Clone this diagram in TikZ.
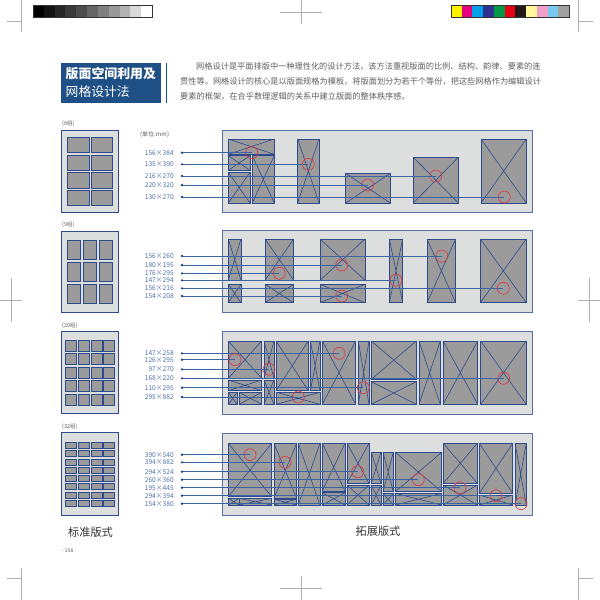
\documentclass[tikz,border=0pt]{standalone}
\usepackage{fontspec}
\setmainfont{Noto Sans CJK SC}
\newfontfamily\cjk{Noto Sans CJK SC}
\definecolor{titleblue}{RGB}{31,80,133}
\definecolor{panelgray}{RGB}{221,222,222}
\definecolor{boxgray}{RGB}{155,155,155}
\definecolor{boxblue}{RGB}{45,75,140}
\definecolor{lineblue}{RGB}{60,100,160}
\definecolor{labblue}{RGB}{80,115,170}
\definecolor{dotblue}{RGB}{30,70,135}
\definecolor{circred}{RGB}{230,50,60}
\definecolor{textgray}{RGB}{95,95,95}
\definecolor{markgray}{RGB}{175,175,175}
\tikzset{
  xb/.style={fill=boxgray, draw=boxblue, line width=0.7pt},
  xl/.style={draw=boxblue, line width=0.6pt},
  rc/.style={circle, draw=circred, line width=0.6pt, minimum size=12pt, inner sep=0pt},
  lab/.style={anchor=east, inner sep=0pt, text=labblue, font=\cjk\fontsize{6.7}{7}\selectfont},
  cn/.style={draw=lineblue, line width=0.7pt},
  panelbox/.style={fill=panelgray, draw=boxblue!80, line width=0.9pt},
  framebox/.style={fill=panelgray, draw=boxblue, line width=0.9pt},
  cellbox/.style={fill=boxgray, draw=boxblue, line width=0.7pt},
  cropmk/.style={draw=markgray, line width=0.5pt},
  smalltxt/.style={anchor=west, inner sep=0pt, text=textgray, font=\cjk\fontsize{5.5}{6}\selectfont},
  bodytxt/.style={anchor=west, inner sep=0pt, text=textgray, font=\cjk\fontsize{8.2}{9}\selectfont},
  bigtxt/.style={inner sep=0pt, text=black!80, font=\cjk\fontsize{11.2}{12}\selectfont}
}
\newcommand\XB[4]{\path[xb] (#1,#2) rectangle (#3,#4); \draw[xl] (#1,#2) -- (#3,#4) (#1,#4) -- (#3,#2);}
\newcommand\CONN[4]{%
  \node[lab] (l#1) at (174,#3) {#2};
  \coordinate (d#1) at (182,#3);
  \node[rc] (c#1) at (#4,#3) {};
  \draw[cn] (d#1) -- (c#1.center);
  \fill[dotblue] (d#1) circle (1.3pt);
}
\begin{document}
\begin{tikzpicture}[x=1pt,y=-1pt]
\useasboundingbox[fill=white] (0,0) rectangle (600,600);
% crop marks
\draw[cropmk] (21.7,0) -- (21.7,31.7) (6.7,21.7) -- (21.7,21.7);
\draw[cropmk] (578.3,0) -- (578.3,31.7) (578.3,21.7) -- (593.3,21.7);
\draw[cropmk] (21.7,600) -- (21.7,568.3) (6.7,578.3) -- (21.7,578.3);
\draw[cropmk] (578.3,600) -- (578.3,568.3) (578.3,578.3) -- (593.3,578.3);
\draw[cropmk] (301,0) -- (301,24) (280,12) -- (322,12);
\draw[cropmk] (301,600) -- (301,576) (280,588) -- (322,588);
\draw[cropmk] (11,278) -- (11,322) (0,300) -- (22,300);
\draw[cropmk] (589,278) -- (589,322) (578,300) -- (600,300);
% gray bar
\foreach \g [count=\i from 0] in {100,92,85,78,70,60,50,40,30,15,0}
  \fill[black!\g] ({33+10.82*\i},5) rectangle ({33+10.82*(\i+1)},17);
\draw[black!80, line width=0.4pt] (33,5) rectangle (152,17);
% colour bar
\foreach \c [count=\i from 0] in {{255,241,0},{230,0,126},{0,160,233},{46,49,146},{0,153,68},{230,0,18},{35,24,21},{255,247,153},{240,160,200},{120,200,240},{160,160,160}}{
  \definecolor{cb}{RGB}{\c}
  \fill[cb] ({451+10.73*\i},5) rectangle ({451+10.73*(\i+1)},17);
}
\draw[black!80, line width=0.4pt] (451,5) rectangle (569,17);
% title
\fill[titleblue] (61,62.5) rectangle (161,102.5);
\draw[titleblue, line width=1.5pt] (166.5,62.5) -- (166.5,102.5);
\node[anchor=west, inner sep=0pt, text=white, font=\cjk\bfseries\fontsize{12.9}{13}\selectfont] (t1) at (65.5,73.5) {版面空间利用及};
\node[anchor=west, inner sep=0pt, text=white, font=\cjk\fontsize{12.8}{13}\selectfont] (t2) at (65.5,92) {网格设计法};
\node[bodytxt] (p1) at (196,66.4) {网格设计是平面排版中一种理性化的设计方法，该方法重视版面的比例、结构、韵律、要素的连};
\node[bodytxt] (p2) at (180,81.6) {贯性等。网格设计的核心是以版面规格为模板，将版面划分为若干个等份，把这些网格作为编辑设计};
\node[bodytxt] (p3) at (180,96.6) {要素的框架，在合乎数理逻辑的关系中建立版面的整体秩序感。};
% group labels
\node[smalltxt] (g1) at (62,124) {(8组)};
\node[smalltxt] (g2) at (62,225) {(9组)};
\node[smalltxt] (g3) at (62,326) {(20组)};
\node[smalltxt] (g4) at (62,427) {(32组)};
\node[smalltxt, font=\cjk\fontsize{6}{7}\selectfont] (unit) at (140,134.5) {(单位:mm)};
% left grids
\path[framebox] (61.7,130) rectangle (118.3,212.7);
\foreach \xa/\xz in {67.3/89,91/112.7}
  \foreach \ya/\yz in {137.3/152.7,155/170.3,172.7/188,190/205.7}
    \path[cellbox] (\xa,\ya) rectangle (\xz,\yz);
\path[framebox] (61.7,231) rectangle (118.3,312.3);
\foreach \xa/\xz in {67.3/80,83.3/96.3,99.7/112.7}
  \foreach \ya/\yz in {240/259.3,262.3/281.7,284.3/303.7}
    \path[cellbox] (\xa,\ya) rectangle (\xz,\yz);
\path[framebox] (61.7,331.7) rectangle (118.3,413.3);
\foreach \xa/\xz in {65.7/76.7,78.3/89.3,91/102,103.7/114.3}
  \foreach \ya/\yz in {340/351,353.7/364.7,367.3/378.3,380.7/391.7,394/405}
    \path[cellbox] (\xa,\ya) rectangle (\xz,\yz);
\path[framebox] (61.7,432.3) rectangle (118.3,515);
\foreach \xa/\xz in {65.7/76.7,78.3/89.3,91/102,103.7/114.3}
  \foreach \i in {0,...,7}
    \path[cellbox] (\xa,{442.3+8.3*\i}) rectangle (\xz,{448.3+8.3*\i});
% panel 1
\path[panelbox] (222.3,130) rectangle (532.3,212.7);
\XB{228.3}{139}{274.3}{154.3}
\XB{228.3}{155.7}{250}{170.3}
\XB{228.3}{172.3}{250}{203}
\XB{252.3}{155.7}{274.3}{203}
\XB{297.7}{139}{319}{203}
\XB{345.7}{173.3}{390.3}{203}
\XB{413.3}{157.3}{458.3}{203}
\XB{481}{139}{526.3}{203}
\CONN{a1}{156×384}{152.7}{251.7}
\CONN{a2}{135×390}{164.3}{308.3}
\CONN{a3}{216×270}{176}{435.7}
\CONN{a4}{220×320}{185}{367.7}
\CONN{a5}{130×270}{197}{504.3}
% panel 2
\path[panelbox] (222.3,230) rectangle (532.3,312.7);
\XB{228.3}{239}{241}{280.3}
\XB{228.3}{284.3}{241}{302.7}
\XB{265}{239}{293.7}{280.3}
\XB{265}{284.3}{293.7}{302.7}
\XB{320}{239}{365}{280.3}
\XB{320}{284.3}{365}{302.7}
\XB{389.3}{239}{402.7}{302.7}
\XB{427}{239}{455.7}{302.7}
\XB{480.3}{239}{526.3}{302.7}
\CONN{b1}{156×260}{256}{441.7}
\CONN{b2}{180×195}{265}{341.7}
\CONN{b3}{176×295}{273.3}{279.3}
\CONN{b4}{147×294}{280.3}{396}
\CONN{b5}{156×216}{288.3}{503.3}
\CONN{b6}{154×208}{296}{341.7}
% panel 3
\path[panelbox] (222.3,331) rectangle (532.3,414.3);
\XB{228.3}{341}{261.7}{378.3}
\XB{228.3}{380}{261.7}{390.7}
\XB{228.3}{392.3}{237}{404.3}
\XB{239}{392.3}{261.7}{404.3}
\XB{264}{341}{274}{378.3}
\XB{264}{380}{274}{404.3}
\XB{276}{341}{308.3}{390.7}
\XB{310.3}{341}{320}{390.7}
\XB{276}{392.3}{320}{404.3}
\XB{322.3}{341}{355.7}{404.3}
\XB{358.3}{341}{369}{404.3}
\XB{371.3}{341}{416.3}{379.3}
\XB{371.3}{381.7}{416.3}{404.3}
\XB{419}{341}{440.3}{404.3}
\XB{443}{341}{477.7}{404.3}
\XB{480.7}{341}{526.3}{404.3}
\CONN{c1}{147×258}{353.3}{339}
\CONN{c2}{126×295}{359.7}{235}
\CONN{c3}{97×270}{369.3}{269}
\CONN{c4}{168×220}{378.3}{503.7}
\CONN{c5}{110×295}{387.7}{363.3}
\CONN{c6}{295×882}{397}{298.3}
% panel 4
\path[panelbox] (222.3,433.3) rectangle (532.3,515);
\XB{228.3}{443.3}{271.7}{496.7}
\XB{228.3}{498.3}{239}{505}
\XB{239}{498.3}{271.7}{505}
\XB{274}{443.3}{296.7}{498.3}
\XB{274}{499.3}{296.7}{505}
\XB{298.3}{443.3}{320}{505}
\XB{322.3}{443.3}{345}{491}
\XB{322.3}{492.7}{345}{505}
\XB{347}{443.3}{369}{483.3}
\XB{347}{485}{369}{505}
\XB{371.3}{452.3}{381}{483.3}
\XB{371.3}{485}{381}{505}
\XB{383}{452.3}{393.3}{491.7}
\XB{383}{493.3}{393.3}{505}
\XB{395.3}{452.3}{441.7}{491.7}
\XB{395.3}{493.3}{441.7}{505}
\XB{443.3}{443.3}{477.3}{483.3}
\XB{443.3}{485}{477.3}{505}
\XB{479.3}{443.3}{512.7}{493.3}
\XB{479.3}{495}{512.7}{505}
\XB{515}{443.3}{526.3}{505}
\CONN{d1}{390×540}{454.7}{250}
\CONN{d2}{394×882}{462.3}{285}
\CONN{d3}{294×524}{471.7}{357.7}
\CONN{d4}{260×360}{479.7}{418.3}
\CONN{d5}{195×445}{487.7}{460}
\CONN{d6}{294×394}{495.7}{496}
\CONN{d7}{154×380}{503.7}{521}
% captions
\node[bigtxt] (cap1) at (90.5,532.3) {标准版式};
\node[bigtxt] (cap2) at (378,531.5) {拓展版式};
\node[smalltxt, font=\cjk\fontsize{5}{6}\selectfont] (pg) at (62,551) {- 298 -};
\end{tikzpicture}
\end{document}
